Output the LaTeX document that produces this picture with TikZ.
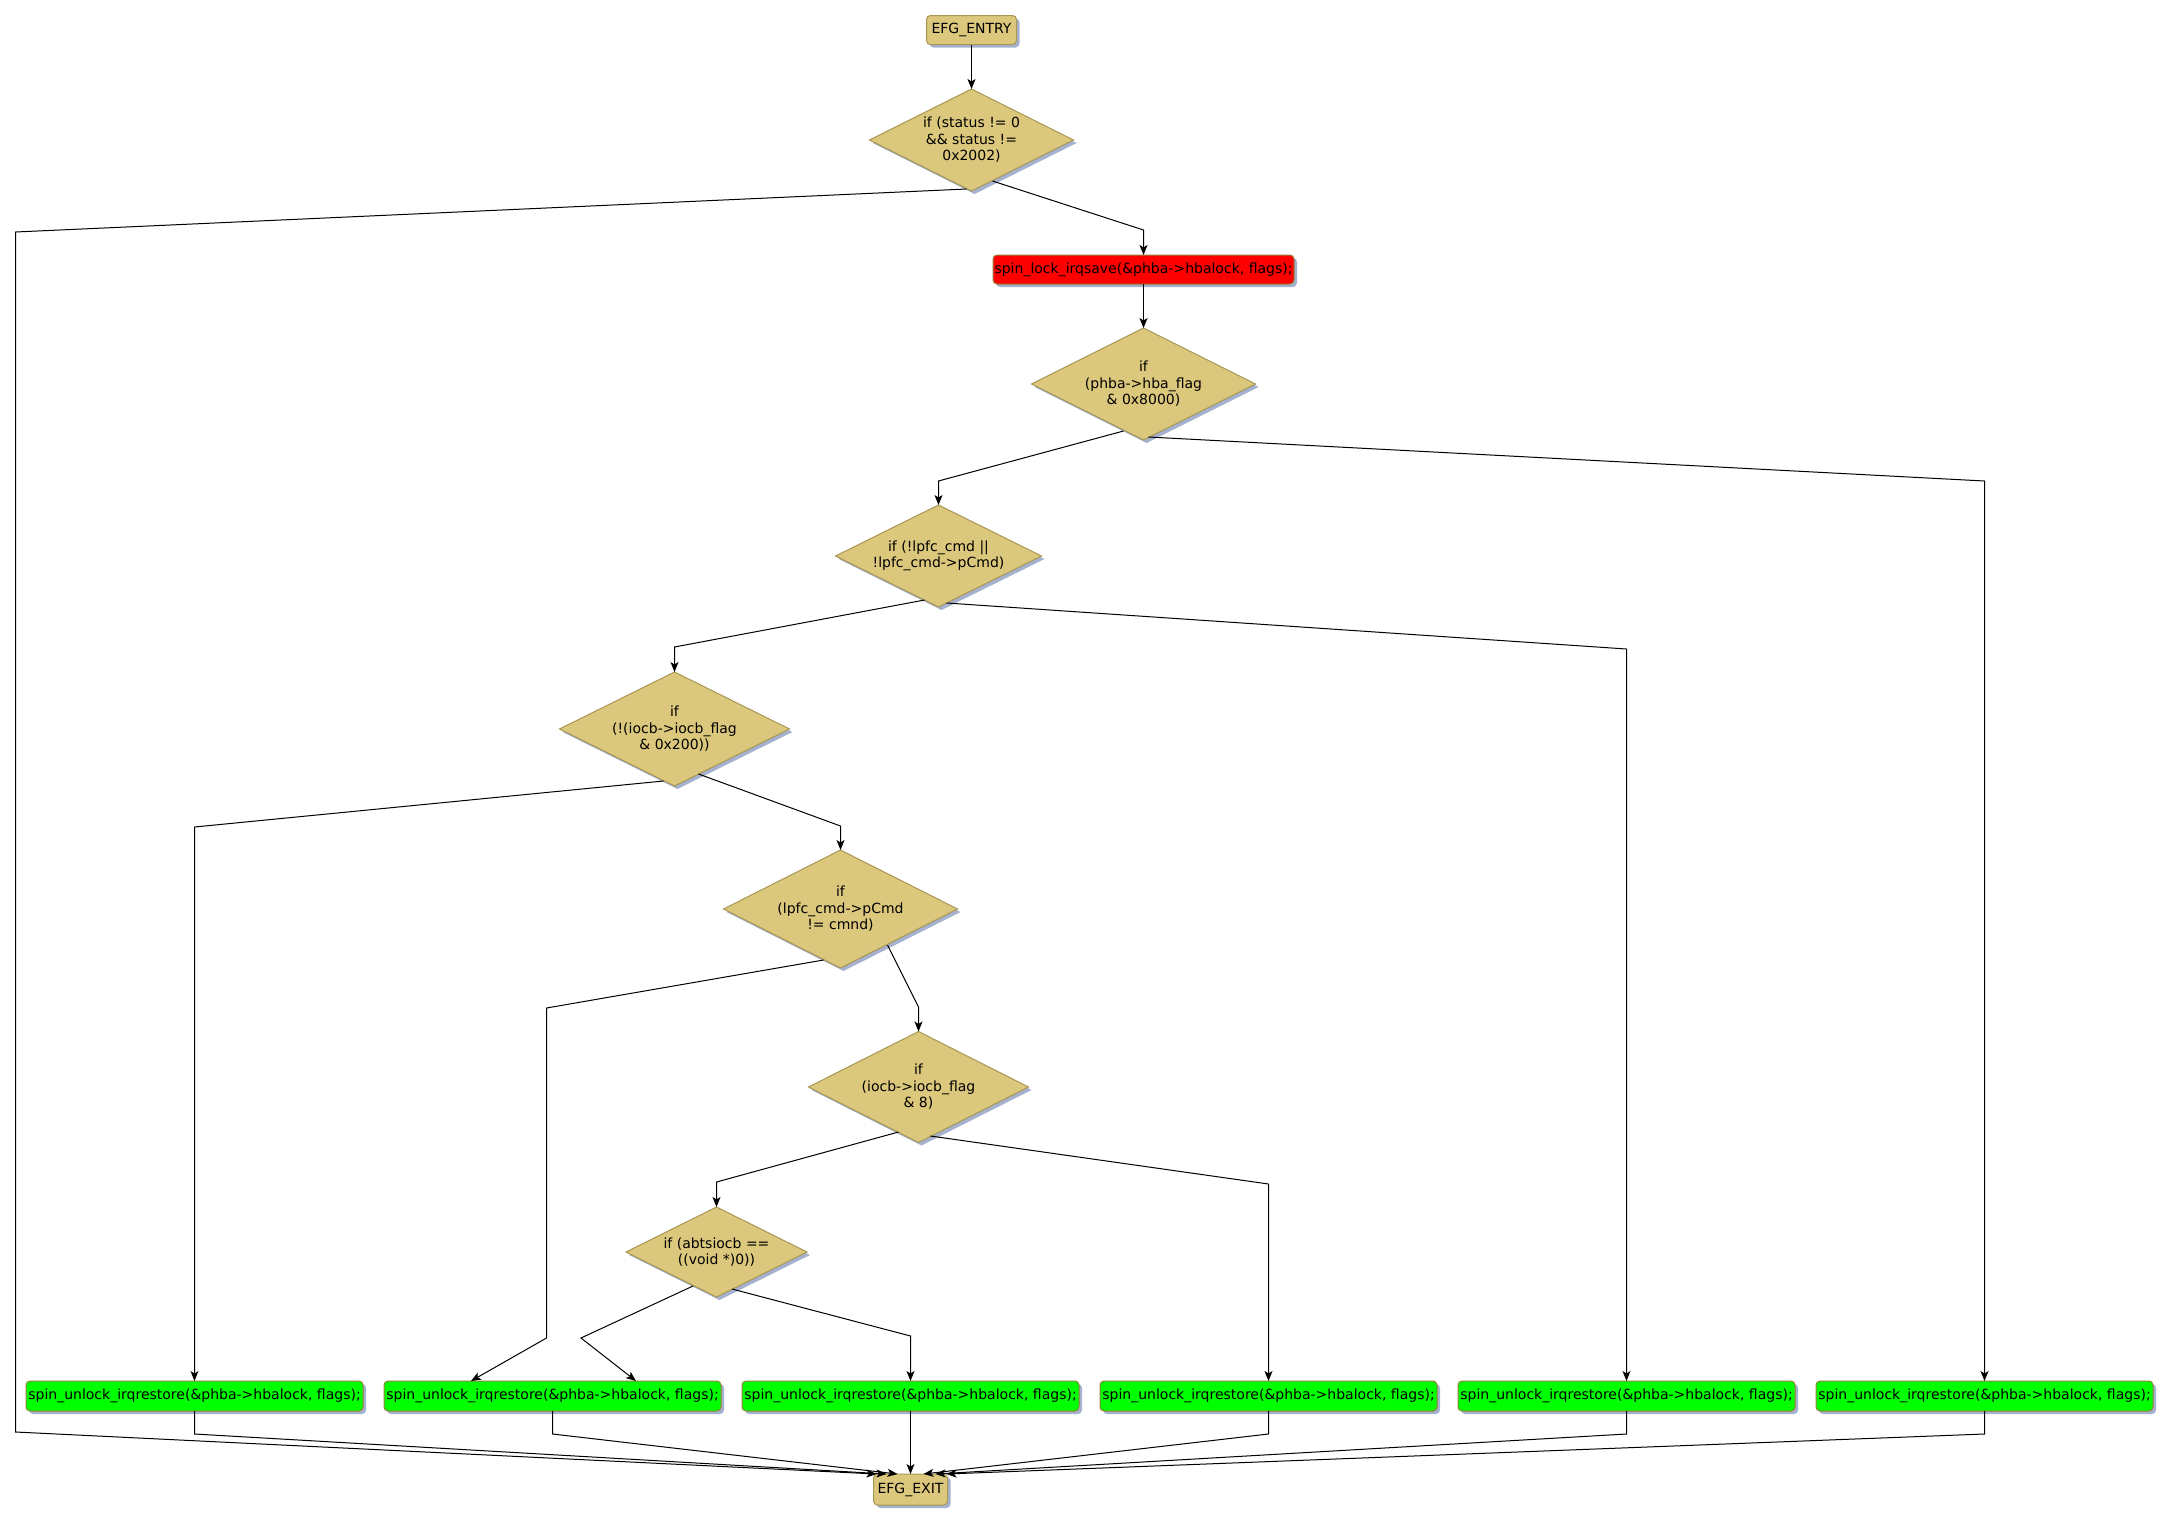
\documentclass[tikz,border=0pt]{standalone}
\usepackage{fontspec}
\newfontfamily\dejavu{DejaVu Sans}
\usetikzlibrary{shapes.geometric,shadows,arrows.meta,calc}
\definecolor{tanfill}{RGB}{220,200,124}
\definecolor{tanborder}{RGB}{168,150,84}
\definecolor{greenfill}{RGB}{0,255,0}
\definecolor{redfill}{RGB}{255,0,0}
\definecolor{boxborder}{RGB}{150,128,60}
\definecolor{shadowc}{RGB}{164,178,208}
\tikzset{
  base/.style={line width=1pt, inner sep=0pt, outer sep=0pt, text=black,
    font=\dejavu\fontsize{14pt}{16.5pt}\selectfont, align=center,
    general shadow={shadow xshift=3pt, shadow yshift=-3pt, fill=shadowc}},
  tanbox/.style={base, rectangle, rounded corners=4pt, draw=tanborder, fill=tanfill},
  dia/.style={base, diamond, shape aspect=2, draw=tanborder, fill=tanfill},
  gbox/.style={base, rectangle, rounded corners=4pt, draw=boxborder, fill=greenfill,
    minimum width=337pt, minimum height=30pt},
  rbox/.style={base, rectangle, rounded corners=4pt, draw=boxborder, fill=redfill,
    minimum width=301pt, minimum height=29pt},
  conn/.style={draw=black, line width=1pt, -{Stealth[length=10pt,width=8pt,inset=2.5pt]}}
}
\begin{document}
\begin{tikzpicture}[x=1pt,y=-1pt]
\useasboundingbox (0,0) rectangle (2172,1523);
% nodes
\node[tanbox, minimum width=90pt, minimum height=29pt] (entry) at (971.5,30) {EFG\_ENTRY};
\node[dia, minimum width=204pt, minimum height=102pt] (d1) at (971.5,140) {if (status != 0\\\&\& status !=\\0x2002)};
\node[rbox] (red) at (1143.5,269.5) {spin\_lock\_irqsave(\&phba->hbalock, flags);};
\node[dia, minimum width=224pt, minimum height=112pt] (d2) at (1143.5,384) {if\\(phba->hba\_flag\\\& 0x8000)};
\node[dia, minimum width=206pt, minimum height=102pt] (d3) at (938.5,556) {if (!lpfc\_cmd ||\\!lpfc\_cmd->pCmd)};
\node[dia, minimum width=230pt, minimum height=114pt] (d4) at (674.5,729) {if\\(!(iocb->iocb\_flag\\\& 0x200))};
\node[dia, minimum width=234pt, minimum height=118pt] (d5) at (840.5,909) {if\\(lpfc\_cmd->pCmd\\!= cmnd)};
\node[dia, minimum width=220pt, minimum height=111pt] (d6) at (918.5,1087) {if\\(iocb->iocb\_flag\\\& 8)};
\node[dia, minimum width=181pt, minimum height=90pt] (d7) at (716.5,1252) {if (abtsiocb ==\\((void *)0))};
\node[gbox] (g1) at (194.5,1396) {spin\_unlock\_irqrestore(\&phba->hbalock, flags);};
\node[gbox] (g2) at (552.5,1396) {spin\_unlock\_irqrestore(\&phba->hbalock, flags);};
\node[gbox] (g3) at (910.5,1396) {spin\_unlock\_irqrestore(\&phba->hbalock, flags);};
\node[gbox] (g4) at (1268.5,1396) {spin\_unlock\_irqrestore(\&phba->hbalock, flags);};
\node[gbox] (g5) at (1626.5,1396) {spin\_unlock\_irqrestore(\&phba->hbalock, flags);};
\node[gbox] (g6) at (1984.5,1396) {spin\_unlock\_irqrestore(\&phba->hbalock, flags);};
\node[tanbox, minimum width=74pt, minimum height=31pt] (exit) at (910.5,1489.5) {EFG\_EXIT};
% connectors
\draw[conn] (entry.south) -- (d1.north);
\draw[conn] ($(d1.center)+(21,41)$) -- (red.north |- 0,230) -- (red.north);
\draw[conn] ($(d1.center)+(-5,49)$) -- (15.5,232) -- (15.5,1432) -- ($(exit.north)+(-34,0)$);
\draw[conn] (red.south) -- (d2.north);
\draw[conn] ($(d2.center)+(-20,47)$) -- (d3.north |- 0,481) -- (d3.north);
\draw[conn] ($(d2.center)+(5,53)$) -- (g6.north |- 0,481) -- (g6.north);
\draw[conn] ($(d3.center)+(-14,44)$) -- (d4.north |- 0,647) -- (d4.north);
\draw[conn] ($(d3.center)+(8,47)$) -- (g5.north |- 0,649) -- (g5.north);
\draw[conn] ($(d4.center)+(-11,52)$) -- (g1.north |- 0,827) -- (g1.north);
\draw[conn] ($(d4.center)+(24,45)$) -- (d5.north |- 0,826) -- (d5.north);
\draw[conn] ($(d5.center)+(-17,51)$) -- (546.5,1008) -- (546.5,1338) -- ($(g2.north)+(-81.5,0)$);
\draw[conn] ($(d5.center)+(47,36)$) -- (d6.north |- 0,1007) -- (d6.north);
\draw[conn] ($(d6.center)+(-20,45)$) -- (d7.north |- 0,1182) -- (d7.north);
\draw[conn] ($(d6.center)+(12,49)$) -- (g4.north |- 0,1184) -- (g4.north);
\draw[conn] ($(d7.center)+(-23.5,34)$) -- (581,1338) -- ($(g2.north)+(83.5,0)$);
\draw[conn] ($(d7.center)+(15.5,37)$) -- (g3.north |- 0,1336) -- (g3.north);
\draw[conn] (g1.south) -- (g1.south |- 0,1434) -- ($(exit.north)+(-24,0)$);
\draw[conn] (g2.south) -- (g2.south |- 0,1434) -- ($(exit.north)+(-13,0)$);
\draw[conn] (g3.south) -- (exit.north);
\draw[conn] (g4.south) -- (g4.south |- 0,1434) -- ($(exit.north)+(13,0)$);
\draw[conn] (g5.south) -- (g5.south |- 0,1434) -- ($(exit.north)+(25,0)$);
\draw[conn] (g6.south) -- (g6.south |- 0,1434) -- ($(exit.north)+(36,0)$);
\end{tikzpicture}
\end{document}
